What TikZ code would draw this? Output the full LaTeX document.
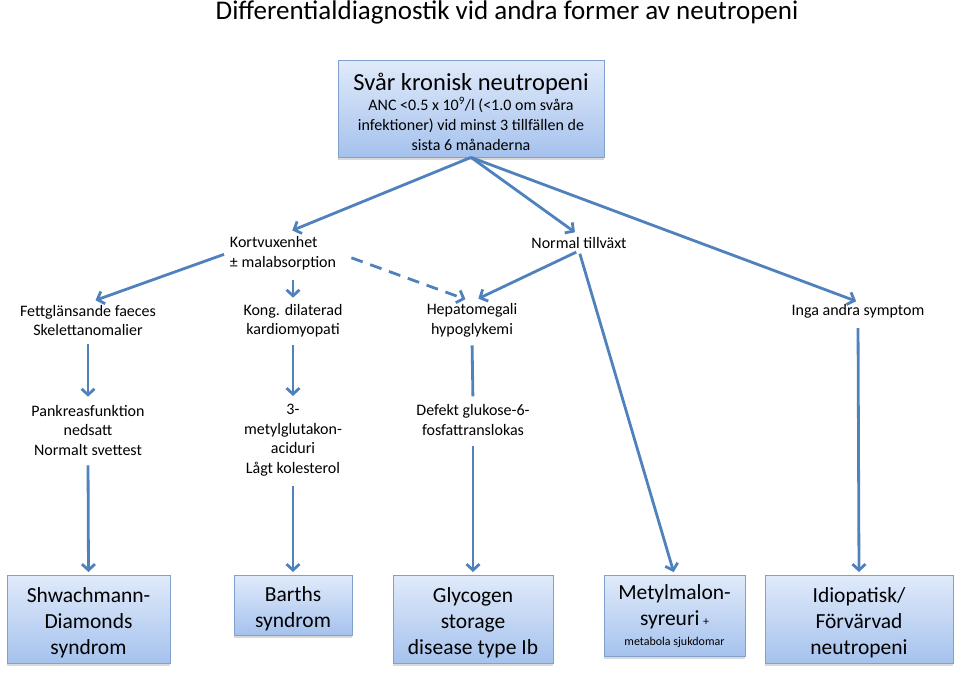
\documentclass[tikz,border=0pt]{standalone}
\usepackage{fontspec}
\setmainfont{Carlito}
\usetikzlibrary{arrows.meta,shadows}
\definecolor{linjebla}{RGB}{79,129,189}
\definecolor{boxtop}{RGB}{224,234,250}
\definecolor{boxbot}{RGB}{165,194,237}
\definecolor{boxram}{RGB}{128,160,206}
\newcommand{\fsz}[2]{\fontsize{#1}{#2}\selectfont}
\newcommand{\lyft}{\rule{0pt}{21pt}}
\begin{document}
\begin{tikzpicture}[x=1pt,y=-1pt,
    ruta/.style={draw=boxram,line width=0.8pt,top color=boxtop,bottom color=boxbot,
        drop shadow={shadow xshift=0pt,shadow yshift=-2.5pt,opacity=0.3},
        align=center,inner sep=2pt},
    diagnos/.style={ruta,anchor=north,font=\fsz{21.5}{26}},
    etikett/.style={align=center,inner sep=2pt,font=\fsz{16}{19.5}},
    pil/.style={draw=linjebla,line width=2.8pt,-{Straight Barb[length=6pt,width=13pt]}},
    linje/.style={draw=linjebla,line width=2.8pt}]
    \useasboundingbox (0,0) rectangle (960,673);
    \node[font=\fsz{27}{30}] (rubrik) at (507,12) {Differentialdiagnostik vid andra former av neutropeni};
    % toppruta
    \node[ruta,minimum width=266,minimum height=97,font=\fsz{16}{20}] (topp) at (471,108.5)
        {\fsz{24.5}{26}\rule{0pt}{24pt}Svår kronisk neutropeni\\[0pt]
         \fsz{16}{20}ANC <0.5 x 10\textsuperscript{9}/l (<1.0 om svåra\\
         \fsz{16}{20}infektioner) vid minst 3 tillfällen de\\
         \fsz{16}{20}sista 6 månaderna};
    % andra nivån
    \node[etikett,align=left] (kort) at (283,253) {Kortvuxenhet\\± malabsorption};
    \node[etikett] (normal) at (579,243) {Normal tillväxt};
    % tredje nivån
    \node[etikett] (fett) at (88,320.5) {Fettglänsande faeces\\Skelettanomalier};
    \node[etikett] (kong) at (293,320.5) {Kong. dilaterad\\kardiomyopati};
    \node[etikett] (hepa) at (472,320.5) {Hepatomegali\\hypoglykemi};
    \node[etikett] (inga) at (858,311) {Inga andra symptom};
    % fjärde nivån
    \node[etikett] (pank) at (88,430) {Pankreasfunktion\\nedsatt\\Normalt svettest};
    \node[etikett] (metglu) at (293,440) {3-\\metylglutakon-\\aciduri\\Lågt kolesterol};
    \node[etikett] (defekt) at (473,420) {Defekt glukose-6-\\fosfattranslokas};
    % diagnoser
    \node[diagnos,minimum width=163,minimum height=88] (shwach) at (88.5,575)
        {\lyft Shwachmann-\\Diamonds\\syndrom};
    \node[diagnos,minimum width=118,minimum height=60] (barth) at (293,575)
        {\lyft Barths\\syndrom};
    \node[diagnos,minimum width=160,minimum height=88] (glyco) at (473,575)
        {\lyft Glycogen\\storage\\disease type Ib};
    \node[diagnos,minimum width=141,minimum height=81] (metyl) at (674.5,575)
        {Metylmalon-\\syreuri\,\fsz{12}{14}+\\[-6pt]\fsz{12}{14}metabola sjukdomar};
    \node[diagnos,minimum width=188,minimum height=88] (idio) at (859,575)
        {\lyft Idiopatisk/\\Förvärvad\\neutropeni};
    % pilar
    \draw[pil,shorten >=10pt] (topp.south) -- (kort.north);
    \draw[pil,shorten >=5pt] (topp.south) -- (normal.north);
    \draw[pil,shorten >=2pt] (topp.south) -- (inga.north);
    \draw[pil,shorten <=4pt,shorten >=8pt] (kort.west) -- (fett.north);
    \draw[pil,shorten <=8pt,shorten >=4pt] (kong.north |- kort.south) -- (kong.north);
    \draw[pil,dashed,dash pattern=on 12pt off 8pt,shorten <=14pt,shorten >=7pt] (kort.east) -- (hepa.north);
    \draw[pil,shorten <=3pt,shorten >=7pt] (normal.south) -- (hepa.north);
    \draw[pil,shorten <=3pt,shorten >=3pt] (normal.south) -- (metyl.north);
    \draw[pil,shorten <=6pt,shorten >=6pt] (fett.south) -- (pank.north);
    \draw[pil,shorten <=6pt,shorten >=6pt] (kong.south) -- (metglu.north);
    \draw[linje,shorten <=6pt,shorten >=6pt] (hepa.south) -- (defekt.north);
    \draw[pil,shorten <=8pt,shorten >=3pt] (inga.south) -- (idio.north);
    \draw[pil,shorten <=8pt,shorten >=3pt] (pank.south) -- (shwach.north);
    \draw[pil,shorten <=8pt,shorten >=3pt] (metglu.south) -- (barth.north);
    \draw[pil,shorten <=8pt,shorten >=3pt] (defekt.south) -- (glyco.north);
\end{tikzpicture}
\end{document}
